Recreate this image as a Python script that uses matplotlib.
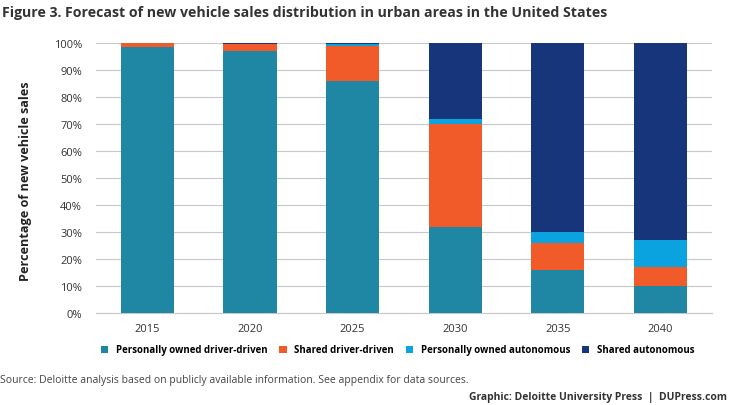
import numpy as np
import matplotlib.pyplot as plt

plt.rcParams['font.family'] = ['Open Sans', 'DejaVu Sans']

years = ["2015", "2020", "2025", "2030", "2035", "2040"]
personal_driver = [98.5, 97, 86, 32, 16, 10]
shared_driver = [1.5, 2.5, 13, 38, 10, 7]
personal_auto = [0, 0, 0.5, 2, 4, 10]
shared_auto = [0, 0.5, 0.5, 28, 70, 73]

series = [
    ("Personally owned driver-driven", personal_driver, "#1f86a3"),
    ("Shared driver-driven", shared_driver, "#f15a29"),
    ("Personally owned autonomous", personal_auto, "#0ba3df"),
    ("Shared autonomous", shared_auto, "#17357a"),
]

fig = plt.figure(figsize=(7.33, 4.06), dpi=100)
ax = fig.add_axes([0.131, 0.2266, 0.84, 0.665])

x = np.arange(len(years))
bottom = np.zeros(len(years))
for name, vals, col in series:
    ax.bar(x, vals, 0.52, bottom=bottom, color=col, label=name, zorder=3)
    bottom += np.array(vals)

ax.set_xlim(-0.5, 5.5)
ax.set_ylim(0, 100)
ax.set_yticks(np.arange(0, 101, 10))
ax.set_yticklabels([f"{v}%" for v in range(0, 101, 10)])
ax.set_xticks(x)
ax.set_xticklabels(years)
ax.tick_params(axis="y", length=0, labelsize=8, colors="#333333", pad=10)
ax.tick_params(axis="x", length=0, labelsize=8, colors="#333333", pad=7)
ax.grid(axis="y", color="#c8c8c8", linewidth=0.8, zorder=0)
for s in ["top", "right", "left"]:
    ax.spines[s].set_visible(False)
ax.spines["bottom"].set_color("#c8c8c8")
ax.set_ylabel("Percentage of new vehicle sales", fontsize=9.1, fontweight="bold", color="#222222")
ax.yaxis.set_label_coords(-0.104, 0.49)

ax.legend(loc="center", bbox_to_anchor=(0.49, -0.137), ncol=4, frameon=False,
          handlelength=0.75, handleheight=0.75, columnspacing=1.2,
          handletextpad=0.8, prop={"weight": "bold", "size": 7})

fig.text(0.003, 0.968, "Figure 3. Forecast of new vehicle sales distribution in urban areas in the United States",
         fontsize=10.2, fontweight="bold", color="#333333", va="center")
fig.text(0.0, 0.064, "Source: Deloitte analysis based on publicly available information. See appendix for data sources.",
         fontsize=7.5, color="#444444", va="center")
fig.text(0.992, 0.022, "Graphic: Deloitte University Press  |  DUPress.com",
         fontsize=7.5, fontweight="bold", color="#333333", ha="right", va="center")

fig.savefig("out.png", dpi=100)
